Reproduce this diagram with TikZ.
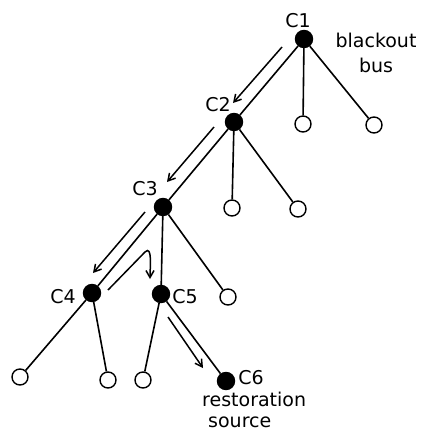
\documentclass[tikz,border=0pt]{standalone}
\usepackage{fontspec}
\setmainfont{DejaVu Sans}
\usetikzlibrary{arrows.meta}

\begin{document}
\begin{tikzpicture}[
x=1pt, y=-1pt,
texts/.style = {text=black, inner sep=0pt, font=\fontsize{19}{22}\selectfont},
treeline/.style = {draw=black, line width=1.6pt},
treenode/.style = {circle, draw=black, line width=1.4pt, inner sep=0pt, minimum size=16pt},
busnode/.style = {treenode, fill=black, minimum size=17pt},
opennode/.style = {treenode, fill=white},
flowline/.style = {draw=black, line width=1.5pt, -{Straight Barb[length=7pt, width=8pt]}}
]
\useasboundingbox (0,0) rectangle (421,434);

\node[busnode] (c1) at (304,39) {};
\node[busnode] (c2) at (234,122) {};
\node[busnode] (c3) at (163,207) {};
\node[busnode] (c4) at (92,293) {};
\node[busnode] (c5) at (161,294) {};
\node[busnode] (c6) at (226,381) {};

\node[opennode] (o1a) at (303,124) {};
\node[opennode] (o1b) at (374,125) {};
\node[opennode] (o2a) at (232,208) {};
\node[opennode] (o2b) at (298,209) {};
\node[opennode] (o3a) at (228,297) {};
\node[opennode] (o4a) at (20,377) {};
\node[opennode] (o4b) at (108,380) {};
\node[opennode] (o5a) at (143,380) {};

\draw[treeline] (c1) -- (c2);
\draw[treeline] (c1) -- (o1a);
\draw[treeline] (c1) -- (o1b);
\draw[treeline] (c2) -- (c3);
\draw[treeline] (c2) -- (o2a);
\draw[treeline] (c2) -- (o2b);
\draw[treeline] (c3) -- (c4);
\draw[treeline] (c3) -- (c5);
\draw[treeline] (c3) -- (o3a);
\draw[treeline] (c4) -- (o4a);
\draw[treeline] (c4) -- (o4b);
\draw[treeline] (c5) -- (o5a);
\draw[treeline] (c5) -- (c6);

\node[texts] (l1) at (298,21) {C1};
\node[texts] (l2) at (218,105) {C2};
\node[texts] (l3) at (145,189) {C3};
\node[texts] (l4) at (63,297) {C4};
\node[texts] (l5) at (185,297) {C5};
\node[texts] (l6) at (251,378) {C6};
\node[texts, align=center, anchor=north] (blackout) at (376,33) {blackout\\[3pt]bus};
\node[texts, align=left, anchor=north west] (source) at (202,392) {restoration\\[-1.5pt]\hspace{6pt}source};

% switching sequence
\coordinate (a1s) at (282,47);
\coordinate (a1e) at (233,103);
\coordinate (a2s) at (214,127);
\coordinate (a2e) at (167,182);
\coordinate (a3s) at (145,212);
\coordinate (a3e) at (93,273);
\coordinate (hs) at (108,290);
\coordinate (hm) at (145,252);
\coordinate (he) at (150,279);
\coordinate (a5s) at (168,317);
\coordinate (a5e) at (203,368);

\draw[flowline] (a1s) -- (a1e);
\draw[flowline] (a2s) -- (a2e);
\draw[flowline] (a3s) -- (a3e);
\draw[flowline] (hs) -- (hm) to[out=45, in=90] (he);
\draw[flowline] (a5s) -- (a5e);
\end{tikzpicture}
\end{document}
